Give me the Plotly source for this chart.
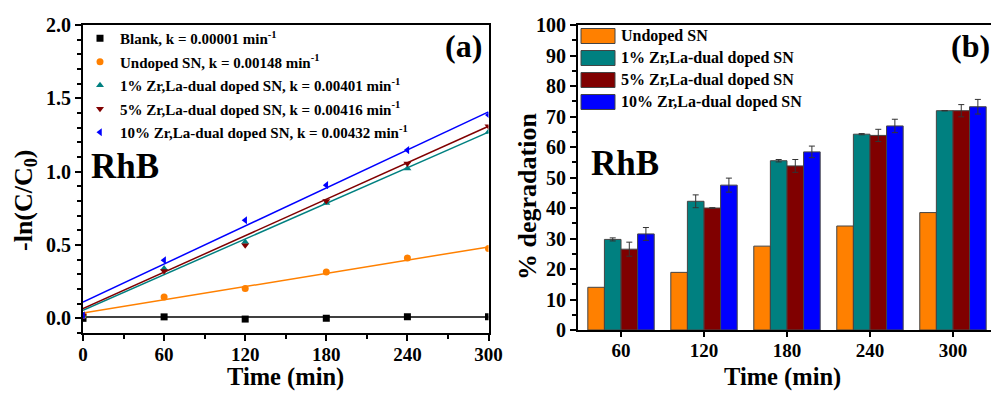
import plotly.graph_objects as go

W, H = 991, 393
FONT = "Liberation Serif"

# ---------------- Panel (a) data ----------------
time_a = [0, 60, 120, 180, 240, 300]
blank_y = [0.0, 0.01, -0.005, 0.0, 0.01, 0.01]
undoped_y = [0.02, 0.146, 0.203, 0.316, 0.412, 0.476]
zr1_y = [0.02, 0.339, 0.521, 0.787, 1.022, 1.27]
zr5_y = [0.02, 0.323, 0.498, 0.80, 1.056, 1.31]
zr10_y = [0.02, 0.396, 0.669, 0.908, 1.147, 1.386]

fit_x = [0, 300]
blank_fit = [0.009, 0.009]
undoped_fit = [0.036, 0.487]
zr1_fit = [0.055, 1.27]
zr5_fit = [0.066, 1.31]
zr10_fit = [0.111, 1.408]

names_a = [
    "Blank, k = 0.00001 min<sup>-1</sup>",
    "Undoped SN, k = 0.00148 min<sup>-1</sup>",
    "1% Zr,La-dual doped SN, k = 0.00401 min<sup>-1</sup>",
    "5% Zr,La-dual doped SN, k = 0.00416 min<sup>-1</sup>",
    "10% Zr,La-dual doped SN, k = 0.00432 min<sup>-1</sup>",
]
symbols_a = ["square", "circle", "triangle-up", "triangle-down", "triangle-left"]
colors_a = ["#000000", "#FF8000", "#008080", "#800000", "#0000FF"]

# ---------------- Panel (b) data ----------------
time_b = [60, 120, 180, 240, 300]
deg_undoped = [14.0, 18.9, 27.5, 34.1, 38.5]
deg_zr1 = [29.7, 42.2, 55.5, 64.2, 71.9]
deg_zr5 = [26.5, 40.0, 53.8, 63.8, 71.9]
deg_zr10 = [31.5, 47.5, 58.4, 66.9, 73.2]
err_undoped = [0, 0, 0, 0, 0]
err_zr1 = [0.5, 2.1, 0.4, 0.2, 0.0]
err_zr5 = [2.3, 0.1, 2.1, 2.0, 2.0]
err_zr10 = [2.1, 2.3, 1.9, 2.2, 2.4]
names_b = ["Undoped SN", "1% Zr,La-dual doped SN", "5% Zr,La-dual doped SN", "10% Zr,La-dual doped SN"]
colors_b = ["#FF8000", "#008080", "#800000", "#0000FF"]


def px(x):
    return x / W


def py(y):
    return 1 - y / H


fig = go.Figure()

ys_a = [blank_y, undoped_y, zr1_y, zr5_y, zr10_y]
fits_a = [blank_fit, undoped_fit, zr1_fit, zr5_fit, zr10_fit]
for i in range(5):
    fig.add_trace(go.Scatter(
        x=fit_x, y=fits_a[i], mode="lines", line=dict(color=colors_a[i], width=1.5),
        showlegend=False, xaxis="x", yaxis="y", hoverinfo="skip"))
for i in range(5):
    fig.add_trace(go.Scatter(
        x=time_a, y=ys_a[i], mode="markers", name=names_a[i],
        marker=dict(symbol=symbols_a[i], color=colors_a[i], size=7),
        legendgroup=f"g{i}", xaxis="x", yaxis="y", legend="legend"))

vals_b = [deg_undoped, deg_zr1, deg_zr5, deg_zr10]
errs_b = [err_undoped, err_zr1, err_zr5, err_zr10]
for i in range(4):
    fig.add_trace(go.Bar(
        x=time_b, y=vals_b[i], name=names_b[i], showlegend=False,
        marker=dict(color=colors_b[i], line=dict(color="#444444", width=1)),
        error_y=dict(type="data", array=errs_b[i], visible=(i > 0), color="#333333",
                     thickness=1, width=3),
        xaxis="x2", yaxis="y2", offsetgroup=str(i)))

tickfont = dict(family=FONT, size=20, color="black", weight="bold")
xtickfont = dict(family=FONT, size=19, color="black", weight="bold")
titlefont = dict(family=FONT, size=26, color="black", weight="bold")
xtitlefont = dict(family=FONT, size=24.5, color="black", weight="bold")

fig.update_layout(
    width=W, height=H, autosize=False,
    margin=dict(l=0, r=0, t=0, b=0),
    paper_bgcolor="white", plot_bgcolor="white",
    font=dict(family=FONT, color="black", weight="bold"),
    barmode="group", bargap=0.2, bargroupgap=0,
    xaxis=dict(domain=[px(83), px(488.5)], range=[0, 300], tickvals=[0, 60, 120, 180, 240, 300],
               ticks="outside", ticklen=6, tickwidth=1.5, tickcolor="black",
               minor=dict(dtick=30, tick0=0, ticks="outside", ticklen=4, tickwidth=1.5, tickcolor="black"),
               showline=True, linecolor="black", linewidth=2, mirror=True,
               showgrid=False, zeroline=False, tickfont=xtickfont, automargin=False,
               ticklabelstandoff=-3, anchor="y"),
    yaxis=dict(domain=[py(333), py(25)], range=[-0.1, 2.0], tickvals=[0, 0.5, 1.0, 1.5, 2.0],
               tickformat=".1f", ticks="outside", ticklen=6, tickwidth=1.5, tickcolor="black",
               minor=dict(dtick=0.1, tick0=0, ticks="outside", ticklen=4, tickwidth=1.5, tickcolor="black"),
               showline=True, linecolor="black", linewidth=2, mirror=True,
               showgrid=False, zeroline=False, tickfont=tickfont, automargin=False,
               anchor="x"),
    xaxis2=dict(domain=[px(578), 1.0], range=[28.9, 327.5], tickvals=time_b,
                ticks="outside", ticklen=5, tickwidth=1.5, tickcolor="black",
                showline=True, linecolor="black", linewidth=2, mirror=True,
                showgrid=False, zeroline=False, tickfont=xtickfont, automargin=False,
                ticklabelstandoff=-3, anchor="y2"),
    yaxis2=dict(domain=[py(330), py(25)], range=[0, 100], dtick=10,
                ticks="outside", ticklen=6, tickwidth=1.5, tickcolor="black",
                minor=dict(dtick=5, ticks="outside", ticklen=4, tickwidth=1.5, tickcolor="black"),
                showline=True, linecolor="black", linewidth=2, mirror=False,
                showgrid=False, zeroline=False, tickfont=tickfont, automargin=False,
                anchor="x2"),
    legend=dict(x=px(80), y=py(22), xanchor="left", yanchor="top",
                bgcolor="rgba(0,0,0,0)", borderwidth=0,
                font=dict(family=FONT, size=15, color="black", weight="bold"),
                traceorder="grouped", tracegroupgap=1, itemwidth=30),
)

# Axis titles (placed as annotations for exact positioning)
for t, x in [("Time (min)", 285), ("Time (min)", 782)]:
    fig.add_annotation(x=px(x), y=py(392.5), xref="paper", yref="paper", text=t, showarrow=False,
                       xanchor="center", yanchor="bottom", font=xtitlefont)
for t, x, y in [("-ln(C/C<sub>0</sub>)", 25, 200), ("% degradation", 527, 197)]:
    fig.add_annotation(x=px(x), y=py(y), xref="paper", yref="paper", text=t, showarrow=False,
                       xanchor="center", yanchor="middle", textangle=-90, font=titlefont)

# Panel (b) legend: swatches + labels
rows_b = [36, 58, 80, 102]
for i in range(4):
    fig.add_shape(type="rect", xref="paper", yref="paper",
                  x0=px(581), x1=px(615), y0=py(rows_b[i] + 7.5), y1=py(rows_b[i] - 7.5),
                  fillcolor=colors_b[i], line=dict(color="#444444", width=1))
    fig.add_annotation(x=px(619), y=py(rows_b[i]), xref="paper", yref="paper",
                       text=names_b[i], showarrow=False, xanchor="left", yanchor="middle",
                       font=dict(family=FONT, size=16, color="black", weight="bold"))

labels = [("RhB", 125, 166, 35), ("RhB", 625, 163, 35), ("(a)", 463, 46, 32), ("(b)", 970, 46, 32)]
for t, x, y, s in labels:
    fig.add_annotation(x=px(x), y=py(y), xref="paper", yref="paper", text=t, showarrow=False,
                       xanchor="center", yanchor="middle",
                       font=dict(family=FONT, size=s, color="black", weight="bold"))

fig.write_html("out.html")
